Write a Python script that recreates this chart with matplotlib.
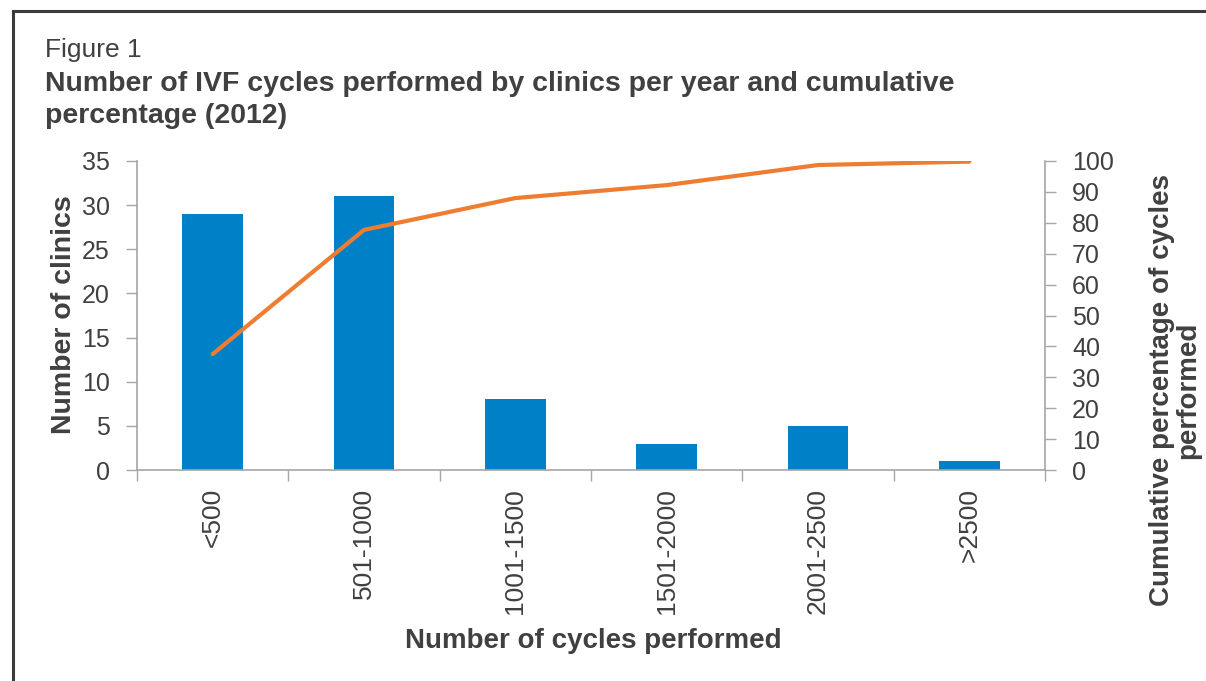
import matplotlib
matplotlib.use("Agg")
import matplotlib.pyplot as plt
from matplotlib.lines import Line2D
import numpy as np

categories = ["<500", "501-1000", "1001-1500", "1501-2000", "2001-2500", ">2500"]
clinics = [29, 31, 8, 3, 5, 1]
cum_pct = [37.5, 77.7, 88.0, 92.2, 98.7, 99.8]

plt.rcParams['font.family'] = ['Liberation Sans', 'DejaVu Sans']
TXT = '#404040'
BLUE = '#0080C6'
ORANGE = '#EE7D31'
AX = '#A6A6A6'

W, H = 1206, 681
fig = plt.figure(figsize=(W / 100, H / 100), dpi=100)

def fx(px):
    return px / W

def fy(py):
    return 1 - py / H

# frame
fig.add_artist(Line2D([fx(13), fx(13)], [fy(11), fy(700)], color='#3a3a3a', lw=2.2, transform=fig.transFigure))
fig.add_artist(Line2D([fx(13), fx(1220)], [fy(11), fy(11)], color='#3a3a3a', lw=2.2, transform=fig.transFigure))

left, right, top, bottom = 137, 1045, 161, 470
ax = fig.add_axes([fx(left), fy(bottom), fx(right - left), (bottom - top) / H])
x = np.arange(len(categories))
ax.bar(x, clinics, width=0.4, color=BLUE, zorder=2)
ax.set_xlim(-0.5, len(categories) - 0.5)
ax.set_ylim(0, 35)
ax.set_yticks(range(0, 36, 5))
ax.set_xticks(x)
ax.set_xticklabels(categories, rotation=90, fontsize=19, color=TXT)
ax.tick_params(axis='x', length=0, pad=13)
ax.set_xticks(np.arange(-0.5, len(categories), 1), minor=True)
ax.tick_params(axis='x', which='minor', length=8, color=AX, width=1)
ax.tick_params(axis='y', labelsize=18, labelcolor=TXT, color=AX, length=8, width=1, pad=11.5)
for s in ['top', 'right']:
    ax.spines[s].set_visible(False)
for s in ['left', 'bottom']:
    ax.spines[s].set_color(AX)
    ax.spines[s].set_linewidth(1.2)

ax2 = ax.twinx()
ax2.plot(x, cum_pct, color=ORANGE, lw=3.0, solid_capstyle='round', zorder=3)
ax2.set_ylim(0, 100)
ax2.set_yticks(range(0, 101, 10))
ax2.tick_params(axis='y', labelsize=18, labelcolor=TXT, color=AX, length=8, width=1, pad=11.5)
for s in ['top', 'left', 'bottom']:
    ax2.spines[s].set_visible(False)
ax2.spines['right'].set_color(AX)
ax2.spines['right'].set_linewidth(1.2)

fig.text(fx(45), fy(57), "Figure 1", fontsize=19, color=TXT, ha='left', va='baseline')
fig.text(fx(45), fy(91), "Number of IVF cycles performed by clinics per year and cumulative",
         fontsize=20.5, fontweight='bold', color=TXT, ha='left', va='baseline')
fig.text(fx(45), fy(123), "percentage (2012)",
         fontsize=20.5, fontweight='bold', color=TXT, ha='left', va='baseline')

fig.text(fx(64), fy(315), "Number of clinics", rotation=90, fontsize=20.5, fontweight='bold',
         color=TXT, ha='center', va='center')
fig.text(fx(593), fy(641), "Number of cycles performed", fontsize=20, fontweight='bold',
         color=TXT, ha='center', va='center')
fig.text(fx(1175), fy(390), "Cumulative percentage of cycles\nperformed", rotation=90, fontsize=20,
         fontweight='bold', color=TXT, ha='center', va='center', linespacing=1.0,
         multialignment='center')

fig.savefig("out.png", dpi=100)
